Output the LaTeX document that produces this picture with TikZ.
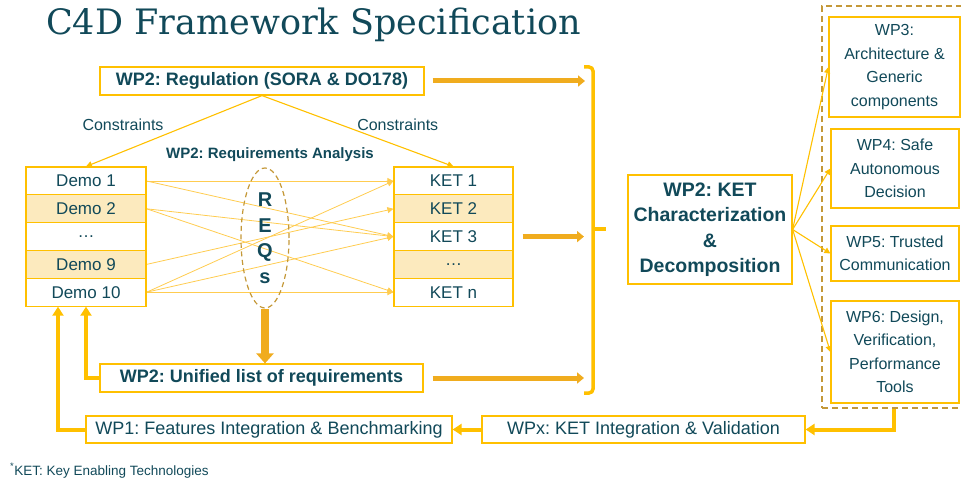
\documentclass[tikz,border=0pt]{standalone}
\usepackage{fontspec}
\setmainfont{Liberation Sans}
\newfontfamily\titlefont{DejaVu Serif}
\usetikzlibrary{shapes,arrows.meta,backgrounds}
\frenchspacing
\definecolor{textteal}{RGB}{17,73,89}
\definecolor{boxgold}{RGB}{255,192,0}
\definecolor{linegold}{RGB}{255,204,80}
\definecolor{arrowgold}{RGB}{240,172,30}
\definecolor{dashbrown}{RGB}{196,152,56}
\definecolor{rowshade}{RGB}{252,234,190}
\tikzset{%
  >={Triangle[width=6pt,length=6pt]},
  % Specifications for style of nodes:
          box/.style = {rectangle, draw=boxgold, line width=1.2pt, fill=white,
                        text=textteal, inner sep=0pt, text centered,
                        font=\fontsize{17}{20}\selectfont},
      demorow/.style = {box, minimum width=120pt, minimum height=27.8pt},
     shaderow/.style = {demorow, fill=rowshade},
      boldbox/.style = {box, minimum height=28pt,
                        font=\fontsize{18}{21}\selectfont\bfseries},
     flowbox/.style = {box, minimum height=27pt,
                        font=\fontsize{18}{21}\selectfont},
        wpbox/.style = {box, minimum width=128pt, align=center,
                        font=\fontsize{16}{23.5}\selectfont},
     groupbox/.style = {rectangle, draw=dashbrown, line width=1.5pt,
                        dash pattern=on 6pt off 4pt},
      reqring/.style = {ellipse, draw=dashbrown, line width=1.2pt, inner sep=0pt,
                        dash pattern=on 5pt off 3.5pt, text=textteal, align=center,
                        font=\fontsize{20}{25.5}\selectfont\bfseries},
  % Specifications for style of connectors:
    thinarrow/.style = {->, draw=boxgold, line width=1.1pt},
      reqline/.style = {->, draw=linegold, line width=0.8pt},
   blockarrow/.style = {-{Triangle[length=7pt,width=11pt]}, draw=arrowgold,
                        line width=5pt},
     feedback/.style = {-{Triangle[length=9pt,width=11pt]}, draw=boxgold,
                        line width=4pt},
      bracket/.style = {draw=boxgold, line width=3.5pt, rounded corners=4pt},
}
\begin{document}
\begin{tikzpicture}[x=1pt, y=-1pt, node distance=27.8pt]
  \useasboundingbox (0,0) rectangle (961,481);
  \node (title) [anchor=base west, inner sep=0pt, text=textteal,
                 font=\titlefont\fontsize{35}{40}\selectfont] at (46,35) {C4D Framework Specification};

  \node (regulation) [boldbox, minimum width=324pt] at (262,81) {WP2: Regulation (SORA \& DO178)};
  \node (analysis)   [text=textteal, font=\fontsize{15}{18}\selectfont\bfseries] at (270,155) {WP2: Requirements Analysis};

  \node (demo1)    [demorow]                    at (86,181) {Demo 1};
  \node (demo2)    [shaderow, below of=demo1]    {Demo 2};
  \node (demodots) [demorow, below of=demo2]     {\dots};
  \node (demo9)    [shaderow, below of=demodots] {Demo 9};
  \node (demo10)   [demorow, below of=demo9]     {Demo 10};

  \node (ket1)    [demorow, minimum width=119pt] at (453.5,181) {KET 1};
  \node (ket2)    [shaderow, minimum width=119pt, below of=ket1]    {KET 2};
  \node (ket3)    [demorow, minimum width=119pt, below of=ket2]     {KET 3};
  \node (ketdots) [shaderow, minimum width=119pt, below of=ket3]    {\dots};
  \node (ketn)    [demorow, minimum width=119pt, below of=ketdots]  {KET n};

  \node (reqs)     [reqring, minimum width=48pt, minimum height=140pt] at (265,238) {R\\E\\Q\\s};
  \node (unified)  [boldbox, minimum width=323pt] at (261.5,378) {WP2: Unified list of requirements};

  \node (ketchar)  [box, minimum width=164pt, minimum height=109pt, align=center,
                    font=\fontsize{19.5}{25.5}\selectfont\bfseries] at (710,229.5)
                   {WP2: KET\\Characterization\\\&\\Decomposition};

  \node (wpgroup)  [groupbox, minimum width=144pt, minimum height=402pt] at (894,207) {};
  \node (wpthree)  [wpbox, minimum width=131pt, minimum height=100pt] at (894.5,67) {WP3:\\Architecture \&\\Generic\\components};
  \node (wpfour)   [wpbox, minimum height=79pt]  at (895,168.5) {WP4: Safe\\Autonomous\\Decision};
  \node (wpfive)   [wpbox, minimum height=55pt]  at (895,253.5) {WP5: Trusted\\Communication};
  \node (wpsix)    [wpbox, minimum height=102pt] at (895,352)   {WP6: Design,\\Verification,\\Performance\\Tools};

  \node (wpx)      [flowbox, minimum width=323pt] at (643.5,429.5) {WPx: KET Integration \& Validation};
  \node (wpone)    [flowbox, minimum width=366pt] at (269,429.5)   {WP1: Features Integration \& Benchmarking};

  \node (note) [anchor=base west, inner sep=0pt, text=textteal,
                font=\fontsize{13.5}{16}\selectfont] at (10,475) {\textsuperscript{*}KET: Key Enabling Technologies};

  % bracket collecting the WP2 outputs
  \coordinate (brtop) at (593,67);
  \coordinate (brmid) at (593,229);
  \coordinate (brbot) at (593,393);
  \draw[bracket] ([xshift=-9pt]brtop) -- (brtop) -- (brbot) -- ([xshift=-9pt]brbot);
  \draw[bracket] (brmid) -- ++(13,0);

  \draw[thinarrow] (regulation.south) -- node[text=textteal, font=\fontsize{16}{19}\selectfont,
                   pos=0.5, xshift=-51pt, yshift=6pt] {Constraints} (demo1.north);
  \draw[thinarrow] (regulation.south) -- node[text=textteal, font=\fontsize{16}{19}\selectfont,
                   pos=0.5, xshift=40pt, yshift=6pt] {Constraints} (ket1.north);

  \begin{scope}[on background layer]
    \foreach \from/\to in {demo1/ket1, demo1/ket3, demo2/ket3, demo2/ketn,
                           demo9/ket2, demo10/ket1, demo10/ket3, demo10/ketn}
      \draw[reqline] (\from.east) -- (\to.west);
  \end{scope}

  \draw[blockarrow, -{Triangle[length=10pt,width=17pt]}, line width=8pt] (reqs.south) -- (reqs.south |- unified.north);
  \draw[blockarrow, shorten <=8pt, shorten >=8pt] (regulation.east) -- (regulation.east -| brtop);
  \draw[blockarrow, shorten <=9pt, shorten >=9pt] (ket3.east) -- (ket3.east -| brtop);
  \draw[blockarrow, shorten <=9pt, shorten >=9pt] (unified.east) -- (unified.east -| brtop);

  \foreach \wp in {wpthree, wpfour, wpfive, wpsix}
    \draw[thinarrow] (ketchar.east) -- (\wp.west);

  \draw[feedback] (wpgroup.south) |- (wpx.east);
  \draw[feedback] (wpx.west) -- (wpone.east);
  \draw[feedback] (wpone.west) -| ([xshift=-28pt]demo10.south);
  \draw[feedback] (unified.west) -| (demo10.south);
\end{tikzpicture}
\end{document}
